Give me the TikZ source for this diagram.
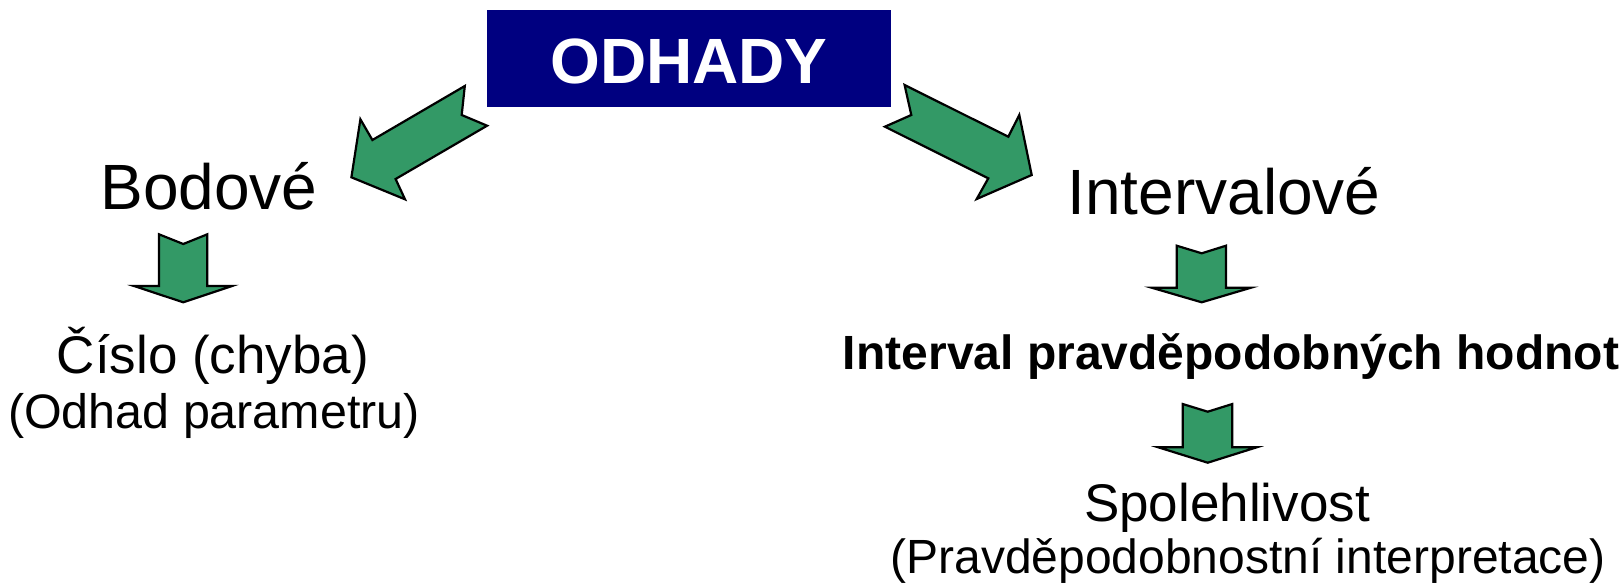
\documentclass[tikz,border=0pt]{standalone}
\usepackage{fontspec}
\setmainfont{Liberation Sans}
\definecolor{navybox}{RGB}{0,0,128}
\definecolor{arrgreen}{RGB}{51,153,102}
\newcommand{\myfs}[1]{\fontsize{#1}{#1}\selectfont}
\begin{document}
\begin{tikzpicture}[x=0.5pt,y=-0.5pt,
  blockarrow/.style={fill=arrgreen,draw=black,line width=1.1pt,line join=miter},
  lbl/.style={anchor=base,inner sep=0pt,text=black}]
\useasboundingbox (0,0) rectangle (1624,585);
% title box
\node[fill=navybox,minimum width=202pt,minimum height=48.5pt,inner sep=0pt] (box) at (689,58.5) {};
\node[lbl,text=white,font=\myfs{32pt}\bfseries] (title) at (689,83) {ODHADY};
% diagonal arrows
\draw[blockarrow] (464.8,86) -- (461.7,115) -- (487.1,125.7) -- (395.6,179) -- (405,199.3)
  -- (351.4,177.3) -- (360.4,119.3) -- (372.4,140) -- cycle;
\draw[blockarrow] (904.6,85) -- (911.3,115) -- (884.9,126.7) -- (988.3,178.3) -- (976.7,199)
  -- (1031.7,175) -- (1019.3,115) -- (1008.3,136.7) -- cycle;
% labels
\node[lbl,font=\myfs{32pt}] (bod) at (209,209) {Bodové};
\node[lbl,font=\myfs{32pt}] (int) at (1224,214) {Intervalové};
% vertical arrows
\draw[blockarrow] (159,234.3) -- (183.3,244) -- (207.3,234.3) -- (207.3,286) -- (232,286)
  -- (183.3,302.3) -- (134,286) -- (159,286) -- cycle;
\draw[blockarrow] (1176.7,245.7) -- (1201.7,253.3) -- (1226,245.7) -- (1226,287.7) -- (1251,287.7)
  -- (1201.7,302.3) -- (1151.7,287.7) -- (1176.7,287.7) -- cycle;
\draw[blockarrow] (1182.7,404) -- (1207.7,411.7) -- (1232.3,404) -- (1232.3,447.3) -- (1256.7,447.3)
  -- (1207.7,462.7) -- (1158.3,447.3) -- (1182.7,447.3) -- cycle;
% lower texts
\node[lbl,font=\myfs{26.5pt}] (cislo) at (213,373) {Číslo (chyba)};
\node[lbl,font=\myfs{24.2pt}] (odhad) at (214,428) {(Odhad parametru)};
\node[lbl,font=\myfs{24pt}\bfseries] (ival) at (1231,369) {Interval pravděpodobných hodnot};
\node[lbl,font=\myfs{26.5pt}] (spol) at (1227,521) {Spolehlivost};
\node[lbl,font=\myfs{24pt}] (prav) at (1248,573) {(Pravděpodobnostní interpretace)};
\end{tikzpicture}
\end{document}
